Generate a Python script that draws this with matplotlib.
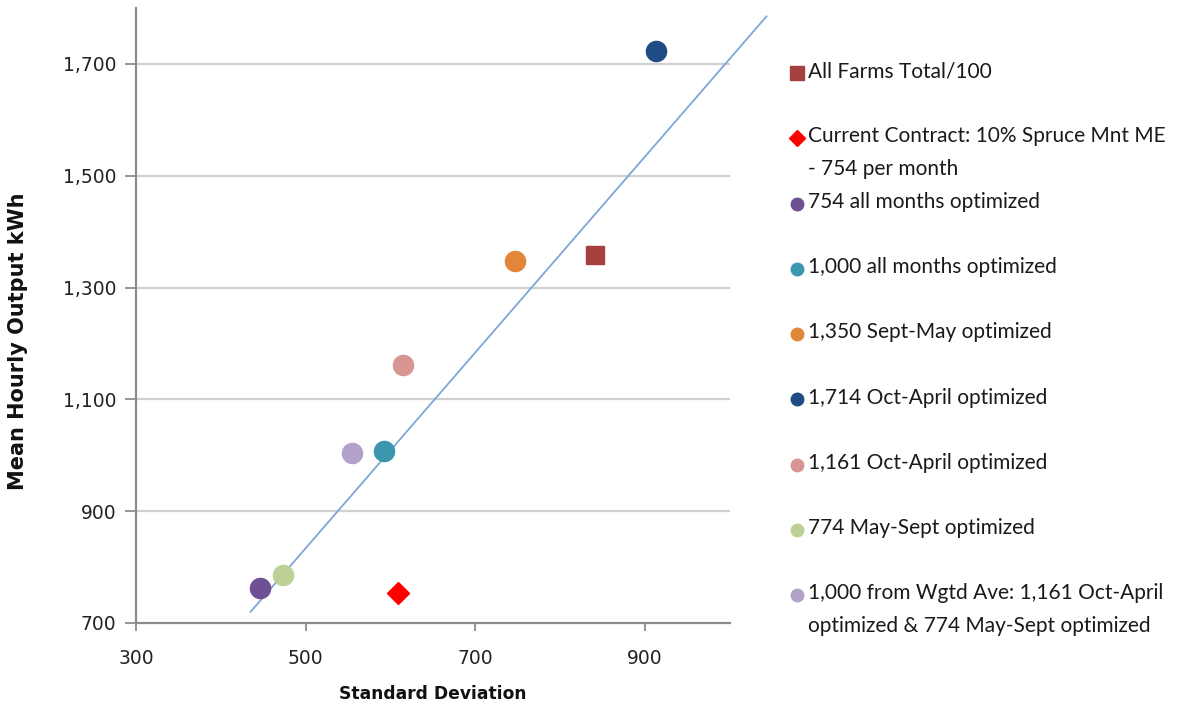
import numpy as np
import matplotlib
matplotlib.use("Agg")
from matplotlib import pyplot as plt
from matplotlib.lines import Line2D
from matplotlib.ticker import FuncFormatter, FixedLocator

# series: (label, std dev, mean hourly output)
LABELS = [
    "All Farms Total/100",
    "Current Contract: 10% Spruce Mnt ME\n- 754 per month",
    "754 all months optimized",
    "1,000 all months optimized",
    "1,350 Sept-May optimized",
    "1,714 Oct-April optimized",
    "1,161 Oct-April optimized",
    "774 May-Sept optimized",
    "1,000 from Wgtd Ave: 1,161 Oct-April\noptimized & 774 May-Sept optimized",
]
STD_DEV = [841, 609, 446, 592, 747, 913, 615, 473, 554]
MEAN_OUT = [1358, 754, 762, 1008, 1348, 1723, 1161, 785, 1004]
MARKERS = ['s', 'D', 'o', 'o', 'o', 'o', 'o', 'o', 'o']
COLORS = ['#A5403F', '#FF0000', '#6E5195', '#3A97AE', '#E2863A',
          '#1F4C85', '#D79593', '#BDD196', '#B2A2CB']
SIZES = [13.5, 11.5, 14.5, 14.5, 14.5, 14.5, 14.5, 14.5, 14.5]
LEG_SIZES = [10, 8, 9, 9, 9, 9, 9, 9, 9]

# trend line end points
TREND_X = [435, 1043]
TREND_Y = [720, 1785]

XTICKS = [300, 500, 700, 900]
YTICKS = [700, 900, 1100, 1300, 1500, 1700]

W, H = 1180, 711
fig = plt.figure(figsize=(W / 100, H / 100), dpi=100)
ax = fig.add_axes([136 / W, 1 - 623 / H, (730 - 136) / W, (623 - 8) / H])

ax.set_xlim(300, 1000)
ax.set_ylim(700, 1800)

for y in YTICKS[1:]:
    ax.axhline(y, color='#D0D0D0', lw=1.6, zorder=0)

ax.plot(TREND_X, TREND_Y, color='#7EA6D6', lw=1.3, clip_on=False, zorder=2)

for i in range(len(LABELS)):
    ax.plot(STD_DEV[i], MEAN_OUT[i], marker=MARKERS[i], ms=SIZES[i],
            color=COLORS[i], mec=COLORS[i], ls='none', zorder=3)

for side in ['top', 'right']:
    ax.spines[side].set_visible(False)
for side in ['left', 'bottom']:
    ax.spines[side].set_color('#8C8C8C')
    ax.spines[side].set_linewidth(1.6)

ax.xaxis.set_major_locator(FixedLocator(XTICKS))
ax.yaxis.set_major_locator(FixedLocator(YTICKS))
ax.yaxis.set_major_formatter(FuncFormatter(lambda v, p: f"{int(v):,}"))
ax.tick_params(axis='both', direction='out', width=1.3,
               color='#8C8C8C', labelsize=13.5, labelcolor='#222222')
ax.tick_params(axis='y', length=8, pad=6)
ax.tick_params(axis='x', length=6, pad=13)

ax.set_xlabel("Standard Deviation", fontsize=12.3, fontweight='bold',
              labelpad=12, color='#111111')
ax.set_ylabel("Mean Hourly Output kWh", fontsize=15, fontweight='bold',
              color='#111111', va='center')
ax.yaxis.set_label_coords(-0.199, 0.4585)

# legend drawn by hand, one slot per series
leg_font = 'Lato'
for i, label in enumerate(LABELS):
    yp = 73 + 65.3 * i
    mk = Line2D([797 / W], [1 - yp / H], transform=fig.transFigure,
                marker=MARKERS[i], ms=LEG_SIZES[i],
                color=COLORS[i], mec=COLORS[i], ls='none')
    fig.add_artist(mk)
    fig.text(808 / W, 1 - (yp - 12) / H, label, ha='left', va='top',
             fontsize=15, family=leg_font, color='#1A1A1A', linespacing=1.8)

fig.savefig("out.png", dpi=100)
